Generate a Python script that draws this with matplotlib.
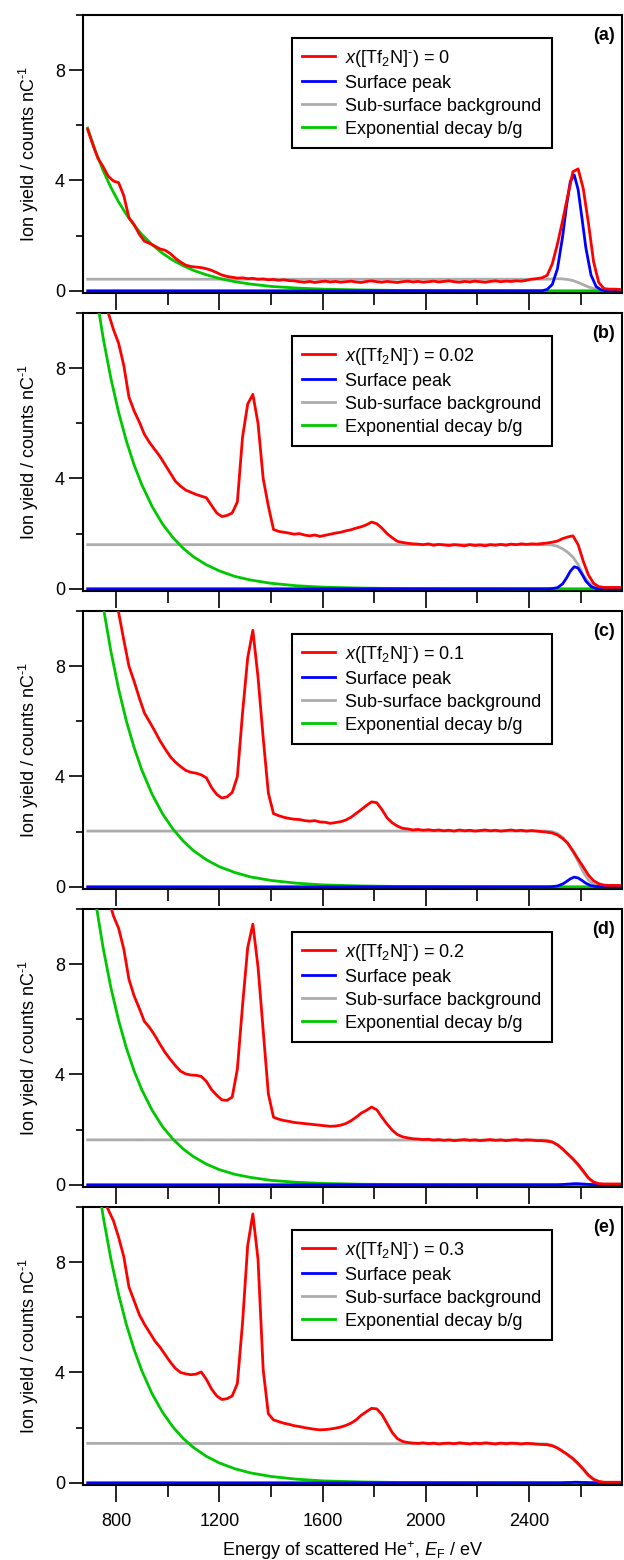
import numpy as np
import matplotlib
matplotlib.use('Agg')
import matplotlib.pyplot as plt
from matplotlib.ticker import MultipleLocator

plt.rcParams['font.family'] = ['Liberation Sans', 'DejaVu Sans']
plt.rcParams['mathtext.fontset'] = 'custom'
plt.rcParams['mathtext.rm'] = 'Liberation Sans'
plt.rcParams['mathtext.it'] = 'Liberation Sans:italic'
plt.rcParams['mathtext.bf'] = 'Liberation Sans:bold'

nan = np.nan

# measured LEIS spectra, read every 20 eV (690 ... 2750 eV)
energy = np.arange(690, 2751, 20)

red_a = [5.85, 5.3, 4.8, 4.5, 4.15, 3.98, 3.92, 3.45, 2.65, 2.4,
         2.05, 1.8, 1.72, 1.62, 1.52, 1.47, 1.35, 1.18, 1.04, 0.93,
         0.88, 0.86, 0.84, 0.8, 0.74, 0.66, 0.57, 0.52, 0.49, 0.46,
         0.47, 0.44, 0.45, 0.42, 0.43, 0.4, 0.41, 0.38, 0.4, 0.37,
         0.36, 0.33, 0.31, 0.34, 0.3, 0.33, 0.35, 0.32, 0.34, 0.31,
         0.33, 0.35, 0.32, 0.3, 0.34, 0.36, 0.33, 0.31, 0.34, 0.32,
         0.3, 0.33, 0.35, 0.32, 0.34, 0.31, 0.33, 0.35, 0.32, 0.34,
         0.36, 0.33, 0.31, 0.34, 0.32, 0.35, 0.33, 0.31, 0.34, 0.36,
         0.33, 0.35, 0.34, 0.36, 0.35, 0.38, 0.42, 0.44, 0.47, 0.56,
         0.98, 1.7, 2.55, 3.45, 4.32, 4.42, 3.7, 2.45, 1.05, 0.3,
         0.08, 0.06, 0.06, 0.05]

red_b = [nan, nan, nan, nan, 10.0, 9.4, 8.9, 8.1, 6.95, 6.45,
         6.05, 5.6, 5.3, 5.05, 4.8, 4.5, 4.2, 3.9, 3.72, 3.58,
         3.5, 3.42, 3.36, 3.3, 3.02, 2.75, 2.62, 2.66, 2.75, 3.15,
         5.5, 6.7, 7.05, 6.0, 4.0, 3.0, 2.15, 2.08, 2.05, 2.02,
         1.98, 2.0, 1.95, 1.92, 1.95, 1.9, 1.94, 1.98, 2.02, 2.05,
         2.1, 2.14, 2.2, 2.25, 2.32, 2.42, 2.36, 2.2, 2.0, 1.85,
         1.72, 1.68, 1.65, 1.63, 1.62, 1.6, 1.63, 1.58, 1.61, 1.59,
         1.57, 1.6, 1.58, 1.56, 1.6, 1.57, 1.59, 1.56, 1.6, 1.58,
         1.61, 1.58, 1.62, 1.6, 1.63, 1.61, 1.63, 1.62, 1.64, 1.66,
         1.69, 1.73, 1.82, 1.88, 1.92, 1.6, 1.0, 0.5, 0.2, 0.08,
         0.05, 0.05, 0.05, 0.05]

red_c = [nan, nan, nan, nan, nan, 10.5, 9.95, 8.95, 8.0, 7.45,
         6.85, 6.3, 5.98, 5.65, 5.3, 5.0, 4.72, 4.52, 4.36, 4.22,
         4.15, 4.12, 4.06, 3.95, 3.6, 3.35, 3.22, 3.26, 3.42, 4.0,
         6.3, 8.3, 9.3, 7.6, 5.4, 3.4, 2.65, 2.58, 2.52, 2.48,
         2.45, 2.44, 2.4, 2.38, 2.4, 2.35, 2.34, 2.3, 2.33, 2.36,
         2.42, 2.52, 2.66, 2.8, 2.95, 3.08, 3.05, 2.8, 2.5, 2.32,
         2.2, 2.12, 2.1, 2.06, 2.08, 2.05, 2.07, 2.04, 2.06, 2.03,
         2.05, 2.02, 2.06, 2.03, 2.05, 2.02, 2.04, 2.06, 2.03, 2.05,
         2.02, 2.04, 2.06, 2.03, 2.05, 2.02, 2.04, 2.02, 2.0, 1.98,
         1.95, 1.88, 1.75, 1.58, 1.3, 1.0, 0.72, 0.42, 0.22, 0.11,
         0.06, 0.05, 0.05, 0.05]

red_d = [nan, nan, nan, nan, 10.4, 9.75, 9.3, 8.55, 7.45, 6.85,
         6.4, 5.92, 5.7, 5.42, 5.1, 4.8, 4.55, 4.32, 4.12, 4.02,
         3.98, 3.97, 3.93, 3.75, 3.45, 3.25, 3.08, 3.06, 3.18, 4.2,
         6.5, 8.6, 9.45, 7.9, 5.6, 3.3, 2.45, 2.38, 2.33, 2.3,
         2.26, 2.24, 2.22, 2.2, 2.18, 2.16, 2.14, 2.12, 2.13, 2.16,
         2.22, 2.32, 2.45, 2.6, 2.7, 2.82, 2.72, 2.45, 2.2, 1.98,
         1.82, 1.74, 1.7, 1.67, 1.66, 1.64, 1.65, 1.62, 1.64, 1.61,
         1.63, 1.6, 1.62, 1.64, 1.61, 1.63, 1.6, 1.62, 1.64, 1.61,
         1.63, 1.6, 1.62, 1.64, 1.61, 1.63, 1.62, 1.6, 1.6, 1.58,
         1.55, 1.45, 1.3, 1.12, 0.94, 0.74, 0.5, 0.25, 0.1, 0.04,
         0.03, 0.03, 0.03, 0.03]

red_e = [nan, nan, nan, 10.3, 9.9, 9.5, 8.9, 8.2, 7.1, 6.6,
         6.1, 5.75, 5.45, 5.15, 4.92, 4.65, 4.38, 4.15, 4.0, 3.95,
         3.92, 3.94, 4.02, 3.75, 3.4, 3.15, 3.02, 3.05, 3.15, 3.6,
         5.8, 8.6, 9.75, 8.1, 4.1, 2.5, 2.28, 2.22, 2.16, 2.12,
         2.07, 2.04, 2.0, 1.97, 1.94, 1.92, 1.93, 1.95, 1.98, 2.02,
         2.08, 2.16, 2.28, 2.45, 2.58, 2.7, 2.68, 2.48, 2.15, 1.82,
         1.6, 1.5, 1.46, 1.44, 1.43, 1.45, 1.42, 1.44, 1.41, 1.43,
         1.44, 1.42, 1.45, 1.43, 1.41, 1.44, 1.42, 1.45, 1.43, 1.41,
         1.44, 1.42, 1.44, 1.43, 1.41, 1.43, 1.42, 1.4, 1.39, 1.38,
         1.34, 1.26, 1.14, 1.02, 0.88, 0.7, 0.5, 0.28, 0.13, 0.05,
         0.02, 0.02, 0.02, 0.02]

# exponential decay background
green_energy = [690, 720, 750, 780, 810, 840, 870, 900, 940, 980, 1020, 1060,
                1100, 1150, 1200, 1260, 1320, 1400, 1500, 1600, 1750, 1900,
                2100, 2400, 2750]
green_a = [5.9, 5.07, 4.36, 3.75, 3.22, 2.77, 2.38, 2.04, 1.67, 1.36, 1.11, 0.91,
           0.74, 0.58, 0.45, 0.33, 0.245, 0.16, 0.1, 0.06, 0.03, 0.013,
           0.005, 0.001, 0.0]
green_b = [12.95, 10.86, 9.1, 7.63, 6.4, 5.36, 4.49, 3.77, 2.98, 2.35, 1.86, 1.47,
           1.16, 0.87, 0.65, 0.45, 0.32, 0.2, 0.11, 0.06, 0.025, 0.01,
           0.003, 0.0, 0.0]
green_c = [14.45, 12.13, 10.18, 8.54, 7.17, 6.01, 5.05, 4.23, 3.35, 2.65, 2.1, 1.66,
           1.31, 0.98, 0.73, 0.52, 0.36, 0.23, 0.13, 0.07, 0.03, 0.012,
           0.004, 0.0, 0.0]
green_d = [12.38, 10.31, 8.59, 7.15, 5.96, 4.96, 4.13, 3.44, 2.7, 2.11, 1.66, 1.3,
           1.02, 0.75, 0.55, 0.38, 0.27, 0.16, 0.09, 0.05, 0.02, 0.008,
           0.002, 0.0, 0.0]
green_e = [13.66, 11.49, 9.66, 8.12, 6.83, 5.74, 4.83, 4.06, 3.22, 2.56, 2.03, 1.61,
           1.28, 0.96, 0.72, 0.51, 0.36, 0.23, 0.13, 0.07, 0.03, 0.012,
           0.004, 0.0, 0.0]

# sub-surface background
gray_energy = [690, 2470, 2490, 2510, 2530, 2550, 2570, 2590, 2610, 2630, 2650,
               2670, 2690, 2750]
gray_a = [0.42, 0.42, 0.43, 0.44, 0.43, 0.41, 0.37, 0.3, 0.22, 0.14, 0.08, 0.04, 0.01, 0.0]
gray_b = [1.6, 1.6, 1.59, 1.54, 1.45, 1.32, 1.15, 0.88, 0.5, 0.24, 0.1, 0.04, 0.01, 0.0]
gray_c = [2.02, 2.02, 2.0, 1.93, 1.8, 1.56, 1.28, 0.92, 0.53, 0.25, 0.09, 0.03, 0.01, 0.0]
gray_d = [1.63, 1.62, 1.56, 1.45, 1.29, 1.1, 0.92, 0.7, 0.46, 0.23, 0.09, 0.03, 0.01, 0.0]
gray_e = [1.43, 1.41, 1.36, 1.27, 1.15, 1.0, 0.85, 0.67, 0.47, 0.26, 0.11, 0.04, 0.01, 0.0]

# surface peak
blue_energy = [690, 2450, 2470, 2490, 2510, 2530, 2545, 2560, 2575, 2590, 2605,
               2620, 2640, 2660, 2680, 2700, 2750]
blue_a = [0.0, 0.0, 0.05, 0.23, 0.8, 1.97, 3.08, 3.97, 4.2, 3.67, 2.63, 1.56, 0.57, 0.15, 0.03, 0.0, 0.0]
blue_b = [0.0, 0.0, 0.0, 0.01, 0.04, 0.18, 0.39, 0.64, 0.8, 0.75, 0.53, 0.28, 0.08, 0.01, 0.0, 0.0, 0.0]
blue_c = [0.0, 0.0, 0.0, 0.005, 0.03, 0.1, 0.19, 0.29, 0.35, 0.32, 0.23, 0.13, 0.04, 0.01, 0.0, 0.0, 0.0]
blue_d = [0.0, 0.0, 0.0, 0.0, 0.0, 0.01, 0.02, 0.03, 0.04, 0.04, 0.03, 0.02, 0.01, 0.0, 0.0, 0.0, 0.0]
blue_e = [0.0, 0.0, 0.0, 0.0, 0.0, 0.0, 0.01, 0.01, 0.02, 0.02, 0.01, 0.01, 0.0, 0.0, 0.0, 0.0, 0.0]

fractions = ['0', '0.02', '0.1', '0.2', '0.3']
tags = ['(a)', '(b)', '(c)', '(d)', '(e)']

reds = [red_a, red_b, red_c, red_d, red_e]
greens = [green_a, green_b, green_c, green_d, green_e]
grays = [gray_a, gray_b, gray_c, gray_d, gray_e]
blues = [blue_a, blue_b, blue_c, blue_d, blue_e]

W, H = 624, 1560
fig = plt.figure(figsize=(W / 100, H / 100), dpi=100)

for i in range(5):
    top = 15 + 298 * i
    ax = fig.add_axes([83 / W, 1 - (top + 278) / H, 539 / W, 278 / H])

    l_gray, = ax.plot(gray_energy, grays[i], color='#acacac', lw=2.0, zorder=2)
    l_green, = ax.plot(green_energy, greens[i], color='#00c800', lw=2.0, zorder=3)
    l_blue, = ax.plot(blue_energy, blues[i], color='#0000ff', lw=2.0, zorder=4)
    l_red, = ax.plot(energy, reds[i], color='#ff0000', lw=2.0, zorder=5)

    ax.set_xlim(672, 2760)
    ax.set_ylim(-0.08, 10)
    ax.xaxis.set_major_locator(MultipleLocator(400))
    ax.xaxis.set_minor_locator(MultipleLocator(200))
    ax.yaxis.set_major_locator(MultipleLocator(4))
    ax.yaxis.set_minor_locator(MultipleLocator(2))

    ax.tick_params(axis='x', which='major', direction='out', length=12, width=1.2,
                   pad=8, labelsize=13)
    ax.tick_params(axis='x', which='minor', direction='out', length=8.5, width=1.2)
    ax.tick_params(axis='y', which='major', direction='out', length=10, width=1.2,
                   pad=3, labelsize=13)
    ax.tick_params(axis='y', which='minor', direction='out', length=5, width=1.2)
    for s in ax.spines.values():
        s.set_linewidth(1.5)

    if i < 4:
        ax.tick_params(axis='x', labelbottom=False)
    else:
        ax.set_xlabel(r'Energy of scattered He$^{+}$, $E_{\mathrm{F}}$ / eV',
                      fontsize=13, labelpad=7)

    ax.set_ylabel(r'Ion yield / counts nC$^{\text{-1}}$', fontsize=13, labelpad=10)

    ax.text(0.987, 0.957, tags[i], transform=ax.transAxes, ha='right', va='top',
            fontsize=13, fontweight='bold')

    labels = [r'$x$([Tf$_2$N]$^{\text{-}}$) = ' + fractions[i], 'Surface peak',
              'Sub-surface background', 'Exponential decay b/g']
    leg = ax.legend([l_red, l_blue, l_gray, l_green], labels, loc='upper left',
                    bbox_to_anchor=(0.388, 0.918), borderaxespad=0, fontsize=13,
                    fancybox=False, edgecolor='black', framealpha=1,
                    handlelength=1.85, handletextpad=0.55, borderpad=0.55,
                    labelspacing=0.33)
    leg.get_frame().set_linewidth(1.5)

fig.savefig('out.png', dpi=100)
